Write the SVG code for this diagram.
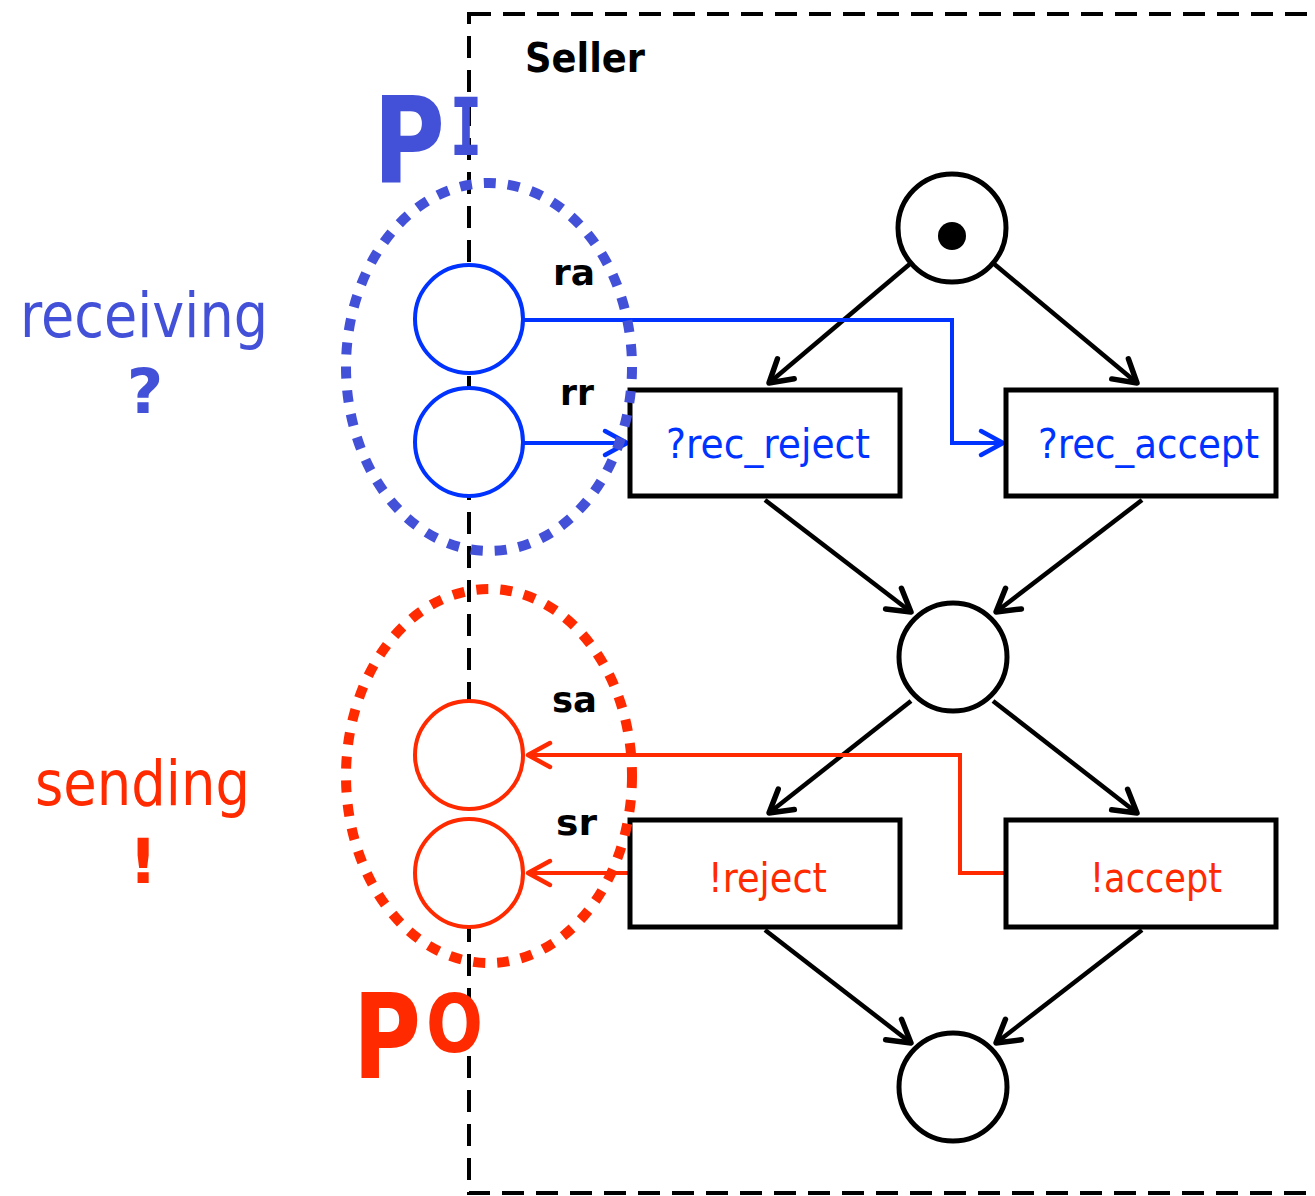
<svg xmlns="http://www.w3.org/2000/svg" width="1315" height="1196" viewBox="0 0 1315 1196">
<style>
text{font-family:"DejaVu Sans","Liberation Sans",sans-serif}
.b{font-weight:bold}
.place{fill:#fff;stroke:#000;stroke-width:5}
.tr{fill:#fff;stroke:#000;stroke-width:5}
.arc{fill:none;stroke:#000;stroke-width:4.5;marker-end:url(#ak)}
.blue{fill:none;stroke:#0033ff;stroke-width:4;marker-end:url(#abl)}
.red{fill:none;stroke:#ff2a00;stroke-width:4;marker-end:url(#ard)}
</style>
<defs>
<marker id="ak" markerWidth="40" markerHeight="40" refX="28" refY="20" orient="auto" markerUnits="userSpaceOnUse"><path d="M6,7 L28,20 L6,33" fill="none" stroke="#000" stroke-width="5.5" stroke-linecap="round" stroke-linejoin="round"/></marker>
<marker id="abl" markerWidth="40" markerHeight="40" refX="28" refY="20" orient="auto" markerUnits="userSpaceOnUse"><path d="M6,8 L28,20 L6,32" fill="none" stroke="#0033ff" stroke-width="4.5" stroke-linecap="round" stroke-linejoin="round"/></marker>
<marker id="ard" markerWidth="40" markerHeight="40" refX="28" refY="20" orient="auto" markerUnits="userSpaceOnUse"><path d="M6,8 L28,20 L6,32" fill="none" stroke="#ff2a00" stroke-width="4.5" stroke-linecap="round" stroke-linejoin="round"/></marker>
</defs>
<rect x="469" y="14" width="900" height="1179" fill="none" stroke="#000" stroke-width="4" stroke-dasharray="22 12"/>
<text class="b" x="525" y="72" font-size="40" textLength="120" lengthAdjust="spacingAndGlyphs">Seller</text>
<g id="connectors">
<path class="arc" d="M911,263 L769,383"/>
<path class="arc" d="M993,263 L1137,383"/>
<path class="arc" d="M765,500 L911,612"/>
<path class="arc" d="M1142,500 L996,612"/>
<path class="arc" d="M911,701 L769,813"/>
<path class="arc" d="M993,701 L1137,813"/>
<path class="arc" d="M765,930 L911,1043"/>
<path class="arc" d="M1142,930 L996,1043"/>
<path class="blue" d="M523,320 L952,320 L952,443 L1003,443"/>
<path class="blue" d="M523,443 L627,443"/>
<path class="red" d="M1006,873 L960,873 L960,755 L528,755"/>
<path class="red" d="M630,873 L528,873"/>
</g>
<g id="p_start"><circle class="place" cx="952" cy="228" r="54"/><circle cx="952" cy="236" r="14" fill="#000"/></g>
<g id="t_rec_reject"><rect class="tr" x="630" y="390" width="270" height="106"/><text x="666" y="458" font-size="40" fill="#0033ff" textLength="204" lengthAdjust="spacingAndGlyphs">?rec_reject</text></g>
<g id="t_rec_accept"><rect class="tr" x="1006" y="390" width="270" height="106"/><text x="1038" y="458" font-size="40" fill="#0033ff" textLength="221" lengthAdjust="spacingAndGlyphs">?rec_accept</text></g>
<g id="p_mid"><circle class="place" cx="953" cy="657" r="54"/></g>
<g id="t_reject"><rect class="tr" x="630" y="820" width="270" height="107"/><text x="708" y="892" font-size="40" fill="#ff2a00" textLength="119" lengthAdjust="spacingAndGlyphs">!reject</text></g>
<g id="t_accept"><rect class="tr" x="1006" y="820" width="270" height="107"/><text x="1090" y="892" font-size="40" fill="#ff2a00" textLength="132" lengthAdjust="spacingAndGlyphs">!accept</text></g>
<g id="p_end"><circle class="place" cx="953" cy="1087" r="54"/></g>
<g id="p_ra"><circle cx="469" cy="319" r="54" fill="#fff" stroke="#0033ff" stroke-width="4"/><text class="b" x="553" y="285" font-size="36" textLength="42" lengthAdjust="spacingAndGlyphs">ra</text></g>
<g id="p_rr"><circle cx="469" cy="442" r="54" fill="#fff" stroke="#0033ff" stroke-width="4"/><text class="b" x="560" y="405" font-size="36" textLength="34" lengthAdjust="spacingAndGlyphs">rr</text></g>
<g id="p_sa"><circle cx="469" cy="755" r="54" fill="#fff" stroke="#ff2a00" stroke-width="4"/><text class="b" x="552" y="712" font-size="36" textLength="45" lengthAdjust="spacingAndGlyphs">sa</text></g>
<g id="p_sr"><circle cx="469" cy="873" r="54" fill="#fff" stroke="#ff2a00" stroke-width="4"/><text class="b" x="556" y="835" font-size="36" textLength="41" lengthAdjust="spacingAndGlyphs">sr</text></g>
<g id="PI">
<ellipse cx="489" cy="367" rx="143" ry="184" fill="none" stroke="#4350d8" stroke-width="10" stroke-dasharray="12 12"/>
<text class="b" x="373" y="182" font-size="120" fill="#4350d8" textLength="72" lengthAdjust="spacingAndGlyphs">P</text>
<text class="b" x="450" y="155" font-size="80" fill="#4350d8" style="font-family:'DejaVu Sans Mono',monospace" textLength="32" lengthAdjust="spacingAndGlyphs">I</text>
<text x="20" y="337" font-size="63" fill="#4350d8" textLength="248" lengthAdjust="spacingAndGlyphs">receiving</text>
<text class="b" x="145" y="413" font-size="63" fill="#4350d8" text-anchor="middle">?</text>
</g>
<g id="PO">
<ellipse cx="489" cy="776" rx="143" ry="187" fill="none" stroke="#ff2a00" stroke-width="10" stroke-dasharray="12 12"/>
<text class="b" x="353" y="1078" font-size="117" fill="#ff2a00" textLength="68" lengthAdjust="spacingAndGlyphs">P</text>
<text class="b" x="426" y="1052" font-size="80" fill="#ff2a00" textLength="57" lengthAdjust="spacingAndGlyphs">O</text>
<text x="35" y="805" font-size="63" fill="#ff2a00" textLength="215" lengthAdjust="spacingAndGlyphs">sending</text>
<text class="b" x="143" y="883" font-size="63" fill="#ff2a00" text-anchor="middle">!</text>
</g>
</svg>
